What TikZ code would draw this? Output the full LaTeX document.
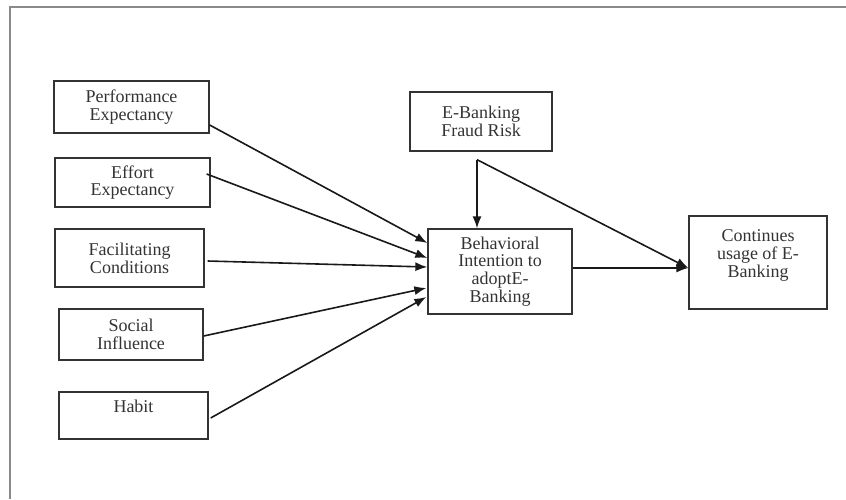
\documentclass[tikz,border=0pt]{standalone}
\usepackage{fontspec}
\setmainfont{Liberation Serif}
\usetikzlibrary{arrows.meta, calc, positioning}
\definecolor{boxgray}{HTML}{333333}
\definecolor{framegray}{HTML}{8A8A8A}

\begin{document}
\begin{tikzpicture}[x=1pt,y=-1pt,>={Latex[length=12pt,width=9pt]},
  box/.style={draw=boxgray,line width=1.3pt,text=boxgray,align=center,inner sep=0pt,
    font=\fontsize{18}{17.7}\selectfont},
  link/.style={->,line width=1.6pt,black!90}]
\useasboundingbox (0,0) rectangle (846,499);
% frame of the page (cut off on the right and at the bottom)
\draw[framegray,line width=1.6pt] (846,7) -- (10,7) -- (10,499);

\node[box,minimum width=155pt,minimum height=52pt] at (131.5,107) (perf) {Performance\\Expectancy};
\node[box,minimum width=155pt,minimum height=49pt] at (132.5,182.5) (effort) {Effort\\Expectancy};
\node[box,minimum width=149pt,minimum height=58pt] at (129.5,258) (facil) {Facilitating\\Conditions};
\node[box,minimum width=144pt,minimum height=51pt] at (131,334.5) (social) {Social\\Influence};
\node[box,minimum width=149pt,minimum height=47pt] at (133.5,415.5) (habit) {Habit\\\mbox{}};

\node[box,minimum width=142pt,minimum height=59pt] at (481,121.5) (fraud) {E-Banking\\Fraud Risk};
\node[box,minimum width=144pt,minimum height=85pt] at (500,271.5) (behav) {Behavioral\\Intention to\\adoptE-\\Banking};
\node[box,minimum width=138pt,minimum height=93pt] at (758,262.5) (cont) {Continues\\usage of E-\\Banking\\\mbox{}};

\coordinate (split) at ([xshift=-4pt,yshift=-8pt]fraud.south);
\coordinate (tip) at ([yshift=-5.5pt]cont.west);

\draw[link] ([yshift=-18pt]perf.east) to ([yshift=28.5pt]behav.west);
\draw[link] ([xshift=-4pt,yshift=8.5pt]effort.east) to ([yshift=13.5pt]behav.west);
\draw[link] ([xshift=3pt,yshift=-3pt]facil.east) to ([yshift=4.5pt]behav.west);
\draw[link] ([yshift=-1.5pt]social.east) to ([xshift=-1pt,yshift=-16.5pt]behav.west);
\draw[link] ([xshift=2pt,yshift=-2.5pt]habit.east) to ([xshift=-1pt,yshift=-25.5pt]behav.west);

\draw[link] (split) to (split |- behav.north);
\draw[link] (split) to (tip);
\draw[link] ([yshift=3.5pt]behav.east) to (tip);
\end{tikzpicture}
\end{document}
